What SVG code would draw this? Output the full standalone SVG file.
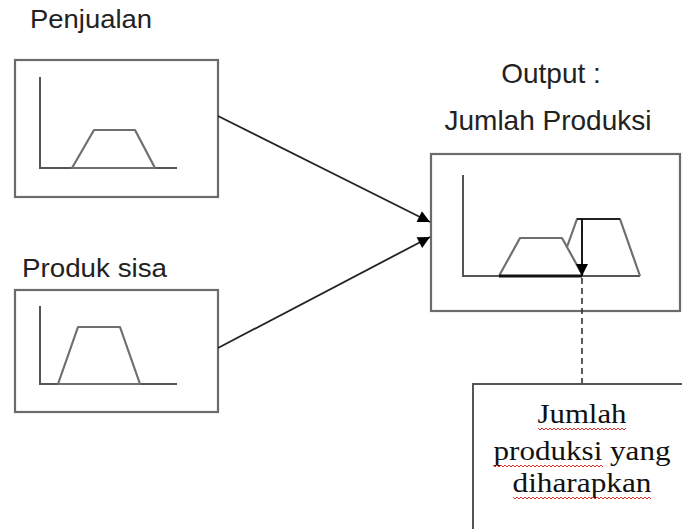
<svg xmlns="http://www.w3.org/2000/svg" width="682" height="529" viewBox="0 0 682 529">
  <style>
    .frame { fill: #fff; stroke: #6b6b6b; stroke-width: 2.2; }
    .axis { fill: none; stroke: #555; stroke-width: 2; }
    .mf { fill: none; stroke: #6f6f6f; stroke-width: 2.2; stroke-linejoin: round; }
    .label { font-family: "Liberation Sans", Arial, sans-serif; fill: #222; }
    .note { font-family: "Liberation Serif", "Times New Roman", serif; fill: #111; font-size: 28px; text-anchor: middle; }
    .edge { fill: none; stroke: #222; stroke-width: 1.8; }
    .squiggle { fill: none; stroke: #e0302a; stroke-width: 1; }
  </style>
  <defs>
    <marker id="arrowBig" viewBox="0 0 10 10" refX="10" refY="5" markerWidth="17" markerHeight="12" markerUnits="userSpaceOnUse" orient="auto">
      <path d="M0,0 L10,5 L0,10 z" fill="#000"/>
    </marker>
  </defs>

  <!-- input: Penjualan -->
  <g id="penjualan">
    <text class="label" x="30" y="28" font-size="25" textLength="122" lengthAdjust="spacingAndGlyphs">Penjualan</text>
    <rect class="frame" x="15" y="60" width="203" height="137"/>
    <path class="axis" d="M40,77 V168 H177"/>
    <path class="mf" d="M72,168 L94,130 H135 L155,168 Z"/>
  </g>

  <!-- input: Produk sisa -->
  <g id="produk-sisa">
    <text class="label" x="22" y="277" font-size="26" textLength="145" lengthAdjust="spacingAndGlyphs">Produk sisa</text>
    <rect class="frame" x="15" y="290" width="203" height="122"/>
    <path class="axis" d="M40,306 V384 H177"/>
    <path class="mf" d="M58,384 L78,327 H120 L140,384 Z"/>
  </g>

  <!-- output: Jumlah Produksi -->
  <g id="output">
    <text class="label" x="551" y="83" font-size="28" text-anchor="middle">Output :</text>
    <text class="label" x="548" y="130" font-size="28" text-anchor="middle">Jumlah Produksi</text>
    <rect class="frame" x="431" y="154" width="249" height="157"/>
    <path class="axis" d="M463,175 V276 H640"/>
    <!-- aggregated output set -->
    <path class="mf" d="M499,276 L520,238 H562 L583,276"/>
    <path class="mf" d="M567,247 L577,219 H620 L640,276"/>
    <line x1="499" y1="276" x2="582" y2="276" stroke="#111" stroke-width="3"/>
    <line x1="577" y1="219" x2="620" y2="219" stroke="#222" stroke-width="1.8"/>
    <!-- defuzzified value -->
    <line x1="582" y1="219" x2="582" y2="276" stroke="#000" stroke-width="1.8" marker-end="url(#arrowBig)"/>
  </g>

  <!-- result note -->
  <g id="hasil">
    <rect x="473" y="384" width="230" height="170" fill="#fff" stroke="#555" stroke-width="2"/>
    <text class="note" x="582" y="423" textLength="89" lengthAdjust="spacingAndGlyphs">Jumlah</text>
    <text class="note" x="582" y="460" textLength="177" lengthAdjust="spacingAndGlyphs">produksi yang</text>
    <text class="note" x="582" y="492" textLength="139" lengthAdjust="spacingAndGlyphs">diharapkan</text>
    <!-- spell-check underlines -->
    <path class="squiggle" d="M538,428 l2,2 l2,-2 l2,2 l2,-2 l2,2 l2,-2 l2,2 l2,-2 l2,2 l2,-2 l2,2 l2,-2 l2,2 l2,-2 l2,2 l2,-2 l2,2 l2,-2 l2,2 l2,-2 l2,2 l2,-2 l2,2 l2,-2 l2,2 l2,-2 l2,2 l2,-2 l2,2 l2,-2 l2,2 l2,-2 l2,2 l2,-2 l2,2 l2,-2 l2,2 l2,-2 l2,2 l2,-2 l2,2 l2,-2 l2,2 l2,-2"/>
    <path class="squiggle" d="M493,465 l2,2 l2,-2 l2,2 l2,-2 l2,2 l2,-2 l2,2 l2,-2 l2,2 l2,-2 l2,2 l2,-2 l2,2 l2,-2 l2,2 l2,-2 l2,2 l2,-2 l2,2 l2,-2 l2,2 l2,-2 l2,2 l2,-2 l2,2 l2,-2 l2,2 l2,-2 l2,2 l2,-2 l2,2 l2,-2 l2,2 l2,-2 l2,2 l2,-2 l2,2 l2,-2 l2,2 l2,-2 l2,2 l2,-2 l2,2 l2,-2 l2,2 l2,-2 l2,2 l2,-2 l2,2 l2,-2 l2,2 l2,-2 l2,2 l2,-2 l2,2"/>
    <path class="squiggle" d="M513,497 l2,2 l2,-2 l2,2 l2,-2 l2,2 l2,-2 l2,2 l2,-2 l2,2 l2,-2 l2,2 l2,-2 l2,2 l2,-2 l2,2 l2,-2 l2,2 l2,-2 l2,2 l2,-2 l2,2 l2,-2 l2,2 l2,-2 l2,2 l2,-2 l2,2 l2,-2 l2,2 l2,-2 l2,2 l2,-2 l2,2 l2,-2 l2,2 l2,-2 l2,2 l2,-2 l2,2 l2,-2 l2,2 l2,-2 l2,2 l2,-2 l2,2 l2,-2 l2,2 l2,-2 l2,2 l2,-2 l2,2 l2,-2 l2,2 l2,-2 l2,2 l2,-2 l2,2 l2,-2 l2,2 l2,-2 l2,2 l2,-2 l2,2 l2,-2 l2,2 l2,-2 l2,2 l2,-2 l2,2"/>
  </g>

  <!-- connectors -->
  <g id="connectors">
    <line class="edge" x1="218" y1="116" x2="430" y2="222" marker-end="url(#arrowBig)"/>
    <line class="edge" x1="218" y1="348" x2="430" y2="237" marker-end="url(#arrowBig)"/>
    <line x1="582" y1="278" x2="582" y2="383" stroke="#333" stroke-width="1.6" stroke-dasharray="6,4"/>
  </g>
</svg>
